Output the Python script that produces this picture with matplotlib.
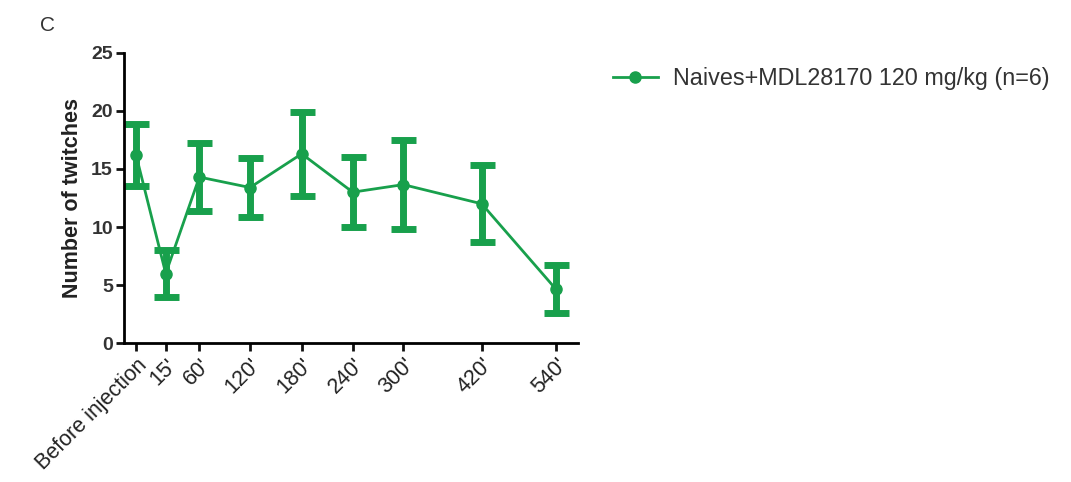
import matplotlib.pyplot as plt
from matplotlib.lines import Line2D

plt.rcParams['font.family'] = ['Liberation Sans', 'DejaVu Sans']

# time points (irregular spacing as in the original graph)
labels = ['Before injection', "15'", "60'", "120'", "180'", "240'", "300'", "420'", "540'"]
x_pos = [0, 0.566, 1.206, 2.171, 3.156, 4.128, 5.091, 6.585, 8.0]
means = [16.2, 6.0, 14.3, 13.4, 16.3, 13.0, 13.65, 12.0, 4.65]
sems = [2.65, 2.0, 2.9, 2.55, 3.6, 3.0, 3.8, 3.3, 2.05]
series_name = 'Naives+MDL28170 120 mg/kg (n=6)'

green = '#18a04c'

fig = plt.figure(figsize=(10.71, 4.82), dpi=100)
ax = fig.add_axes([0.1158, 0.2878, 0.4239, 0.6029])

ax.errorbar(x_pos, means, yerr=sems, color=green, lw=2, marker='o', ms=8,
            elinewidth=5, capsize=9, capthick=5)

ax.set_xlim(-0.229, 8.42)
ax.set_ylim(0, 25)
ax.set_yticks([0, 5, 10, 15, 20, 25])
ax.set_xticks(x_pos)
ax.set_xticklabels(labels, rotation=45, ha='right', rotation_mode='anchor',
                   fontsize=15.5, color='#222222')
for t in ax.get_yticklabels():
    t.set_fontsize(14)
    t.set_fontweight('bold')
    t.set_color('#333333')

ax.spines['top'].set_visible(False)
ax.spines['right'].set_visible(False)
ax.spines['left'].set_linewidth(2)
ax.spines['bottom'].set_linewidth(2)
ax.tick_params(width=2, length=6, pad=2, color='#111111')

ax.set_ylabel('Number of twitches', fontsize=15.5, fontweight='bold',
              color='#222222', labelpad=6)

fig.text(0.037, 0.948, 'C', fontsize=15, va='center', color='#333333')

handle = Line2D([], [], color=green, lw=2, marker='o', ms=8)
fig.legend([handle], [series_name], loc='upper left',
           bbox_to_anchor=(0.553, 0.905), frameon=False,
           fontsize=16.8, handlelength=1.9, handletextpad=0.65,
           labelcolor='#333333')

fig.savefig('out.png', dpi=100)
